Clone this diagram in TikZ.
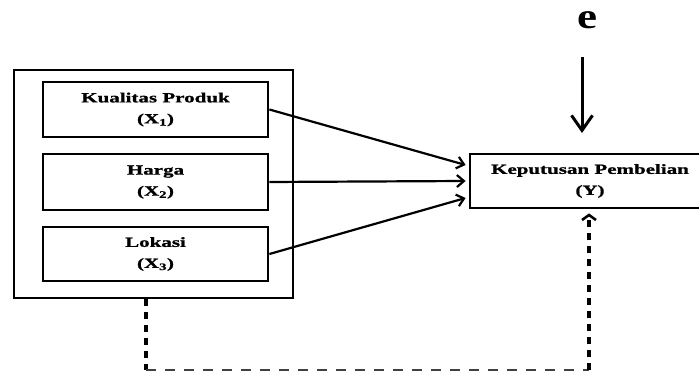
\documentclass[tikz,border=0pt]{standalone}
\usepackage{fontspec}
\setmainfont{Liberation Serif}
\newfontfamily\widefont[FakeStretch=1.5,FakeBold=1.2]{Liberation Serif}
\newfontfamily\efont[FakeStretch=1.25]{Liberation Serif}
\usetikzlibrary{arrows.meta}
\tikzset{
  box/.style={draw, line width=2.8pt, inner sep=0pt, align=center,
    font=\widefont\bfseries\fontsize{14}{21}\selectfont},
  conn/.style={line width=2.2pt, -{Straight Barb[length=7pt,width=12pt,line width=2.2pt]}},
  earrow/.style={line width=3pt, -{Straight Barb[length=15pt,width=21pt,line width=3pt]}},
  vdash/.style={line width=3.2pt, dash pattern=on 7pt off 6pt},
  hdash/.style={line width=2pt, black!75, dash pattern=on 10pt off 9pt},
  dtip/.style={shorten >=4pt, -{Straight Barb[length=5pt,width=14pt,line width=2.6pt]}}
}
\begin{document}
\begin{tikzpicture}[x=1pt,y=-1pt]
\useasboundingbox (0,0) rectangle (699,371);
\node[box, minimum width=279, minimum height=228] (outer) at (153.5,184) {};
\node[box, minimum width=225, minimum height=55] (x1) at (155.5,109.5) {Kualitas Produk\\(X\textsubscript{1})};
\node[box, minimum width=225, minimum height=56] (x2) at (155.5,182) {Harga\\(X\textsubscript{2})};
\node[box, minimum width=225, minimum height=54] (x3) at (155.5,254) {Lokasi\\(X\textsubscript{3})};
\node[box, minimum width=240, minimum height=54] (y) at (590,181) {Keputusan Pembelian\\(Y)};
\node[font=\efont\bfseries\fontsize{36}{38}\selectfont, inner sep=0pt] (e) at (587,20) {e};
\coordinate (etop) at (582,57);
\coordinate (ebot) at (582,133);
\coordinate (dleft) at (146,370.5);
\coordinate (dright) at (589,370.5);
\draw[conn] (x1.east) -- ([xshift=-3pt,yshift=16pt]y.west);
\draw[conn] (x2.east) -- ([xshift=-3pt]y.west);
\draw[conn] (x3.east) -- ([xshift=-3pt,yshift=-17pt]y.west);
\draw[earrow] (etop) -- (ebot);
\draw[vdash] (dleft |- outer.south) -- (dleft);
\draw[hdash] (dleft) -- (dright);
\draw[vdash, dtip] (dright) -- (dright |- y.south);
\end{tikzpicture}
\end{document}
